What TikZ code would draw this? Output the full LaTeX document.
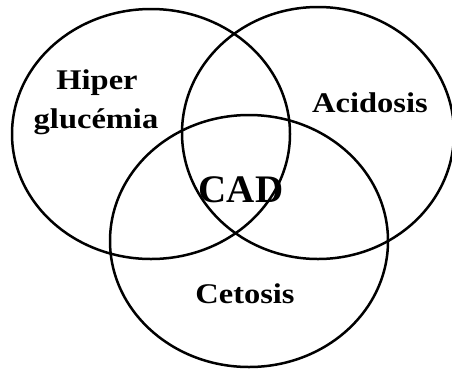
\documentclass[tikz,border=0pt]{standalone}
\usepackage{fontspec}
\setmainfont{Liberation Serif}
\usetikzlibrary{shapes.geometric}
\begin{document}
\begin{tikzpicture}[x=1pt,y=-1pt,
  ring/.style={draw=black, line width=2.5pt, ellipse, inner sep=0pt},
  lab/.style={font=\bfseries\fontsize{28.5}{30}\selectfont, inner sep=0pt, anchor=base},
  big/.style={font=\bfseries\fontsize{39}{42}\selectfont, inner sep=0pt, anchor=base}]
\useasboundingbox (0,0) rectangle (452,370);
\node[ring, minimum width=278pt, minimum height=250pt] (hyp) at (151,134) {};
\node[ring, minimum width=272pt, minimum height=252pt] (aci) at (318,133) {};
\node[ring, minimum width=278pt, minimum height=252pt] (cet) at (249,241) {};
\node[lab] (t1) at (97,89) {\scalebox{1.14}[1]{Hiper}};
\node[lab] (t2) at (96,128) {\scalebox{1.14}[1]{glucémia}};
\node[lab] (t3) at (370,112) {\scalebox{1.14}[1]{Acidosis}};
\node[big] (t4) at (241,202) {CAD};
\node[lab] (t5) at (245,303) {\scalebox{1.14}[1]{Cetosis}};
\end{tikzpicture}
\end{document}
